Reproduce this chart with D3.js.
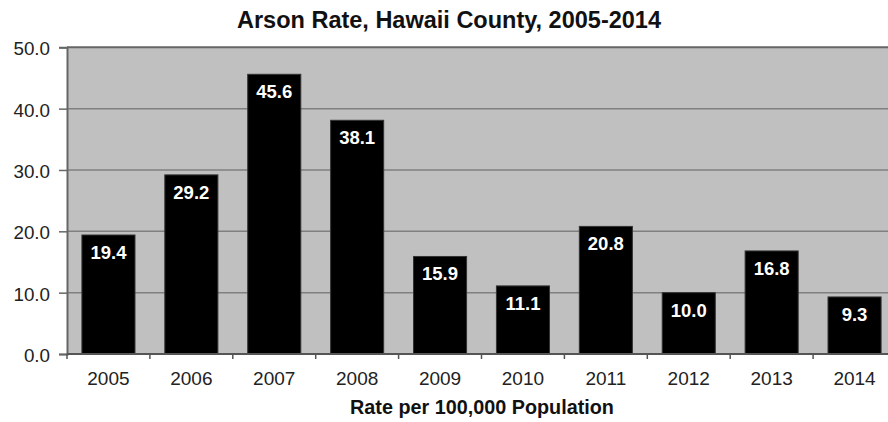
<!DOCTYPE html>
<html><head><meta charset="utf-8">
<script src="https://cdn.jsdelivr.net/npm/d3@7"></script>
<style>
html,body{margin:0;padding:0;background:#fff;}
svg{display:block;font-family:"Liberation Sans",Arial,sans-serif;}
</style></head>
<body>
<svg id="chart" width="888" height="422"></svg>
<script>
const years = ["2005","2006","2007","2008","2009","2010","2011","2012","2013","2014"];
const rates = [19.4, 29.2, 45.6, 38.1, 15.9, 11.1, 20.8, 10.0, 16.8, 9.3];
const yTicks = [0, 10, 20, 30, 40, 50];
const chartTitle = "Arson Rate, Hawaii County, 2005-2014";
const xTitle = "Rate per 100,000 Population";

const svg = d3.select("#chart");
const L = 67, R = 896, T = 47.3, B = 354;

const x = d3.scaleBand().domain(years).range([L, R]).paddingInner(0.36).paddingOuter(0.18);
const y = d3.scaleLinear().domain([0, 50]).range([B, T]);

// plot background
svg.append("rect").attr("x", L).attr("y", T).attr("width", R - L).attr("height", B - T)
  .attr("fill", "#c0c0c0");

// gridlines
svg.append("g").selectAll("line").data(yTicks.filter(d => d > 0)).join("line")
  .attr("x1", L).attr("x2", R)
  .attr("y1", d => y(d)).attr("y2", d => y(d))
  .attr("stroke", d => d === 50 ? "#666" : "#808080").attr("stroke-width", d => d === 50 ? 2 : 1.5);

// left axis
const yAxis = d3.axisLeft(y).tickValues(yTicks).tickFormat(d3.format(".1f")).tickSize(8).tickPadding(9);
const gy = svg.append("g").attr("transform", `translate(${L},0)`).call(yAxis);
gy.select(".domain").attr("stroke", "#666").attr("stroke-width", 2);
gy.selectAll(".tick line").attr("stroke", "#666").attr("stroke-width", 1.5);
gy.selectAll(".tick text").attr("font-size", 18.8).attr("fill", "#222")
  .attr("font-family", "Liberation Sans, Arial, sans-serif").attr("dy", "0.4em");

// bars
svg.append("g").selectAll("rect").data(years).join("rect")
  .attr("x", d => x(d)).attr("width", x.bandwidth())
  .attr("y", (d, i) => y(rates[i])).attr("height", (d, i) => y(0) - y(rates[i]))
  .attr("fill", "#000").attr("stroke", "#333").attr("stroke-width", 1);

// value labels
svg.append("g").selectAll("text").data(years).join("text")
  .attr("x", d => x(d) + x.bandwidth() / 2)
  .attr("y", (d, i) => y(rates[i]) + 24)
  .attr("text-anchor", "middle").attr("fill", "#fff")
  .attr("font-size", 18.5).attr("font-weight", "bold")
  .text((d, i) => d3.format(".1f")(rates[i]));

// bottom axis
const step = x.step();
const boundaries = [x(years[0]) - step * 0.18].concat(years.map(d => x(d) + x.bandwidth() + step * 0.18));
svg.append("line").attr("x1", L).attr("x2", R).attr("y1", B).attr("y2", B)
  .attr("stroke", "#555").attr("stroke-width", 2);
svg.append("g").selectAll("line").data(boundaries).join("line")
  .attr("x1", d => d).attr("x2", d => d).attr("y1", B).attr("y2", B + 5)
  .attr("stroke", "#555").attr("stroke-width", 1.5);
svg.append("g").selectAll("text").data(years).join("text")
  .attr("x", d => x(d) + x.bandwidth() / 2).attr("y", 384.5)
  .attr("text-anchor", "middle").attr("font-size", 19).attr("fill", "#222")
  .text(d => d);

// titles
svg.append("text").attr("x", 449).attr("y", 28).attr("text-anchor", "middle")
  .attr("font-size", 23.5).attr("font-weight", "bold").attr("fill", "#111").text(chartTitle);
svg.append("text").attr("x", 482).attr("y", 414).attr("text-anchor", "middle")
  .attr("font-size", 19.8).attr("font-weight", "bold").attr("fill", "#111").text(xTitle);
</script>
</body></html>
